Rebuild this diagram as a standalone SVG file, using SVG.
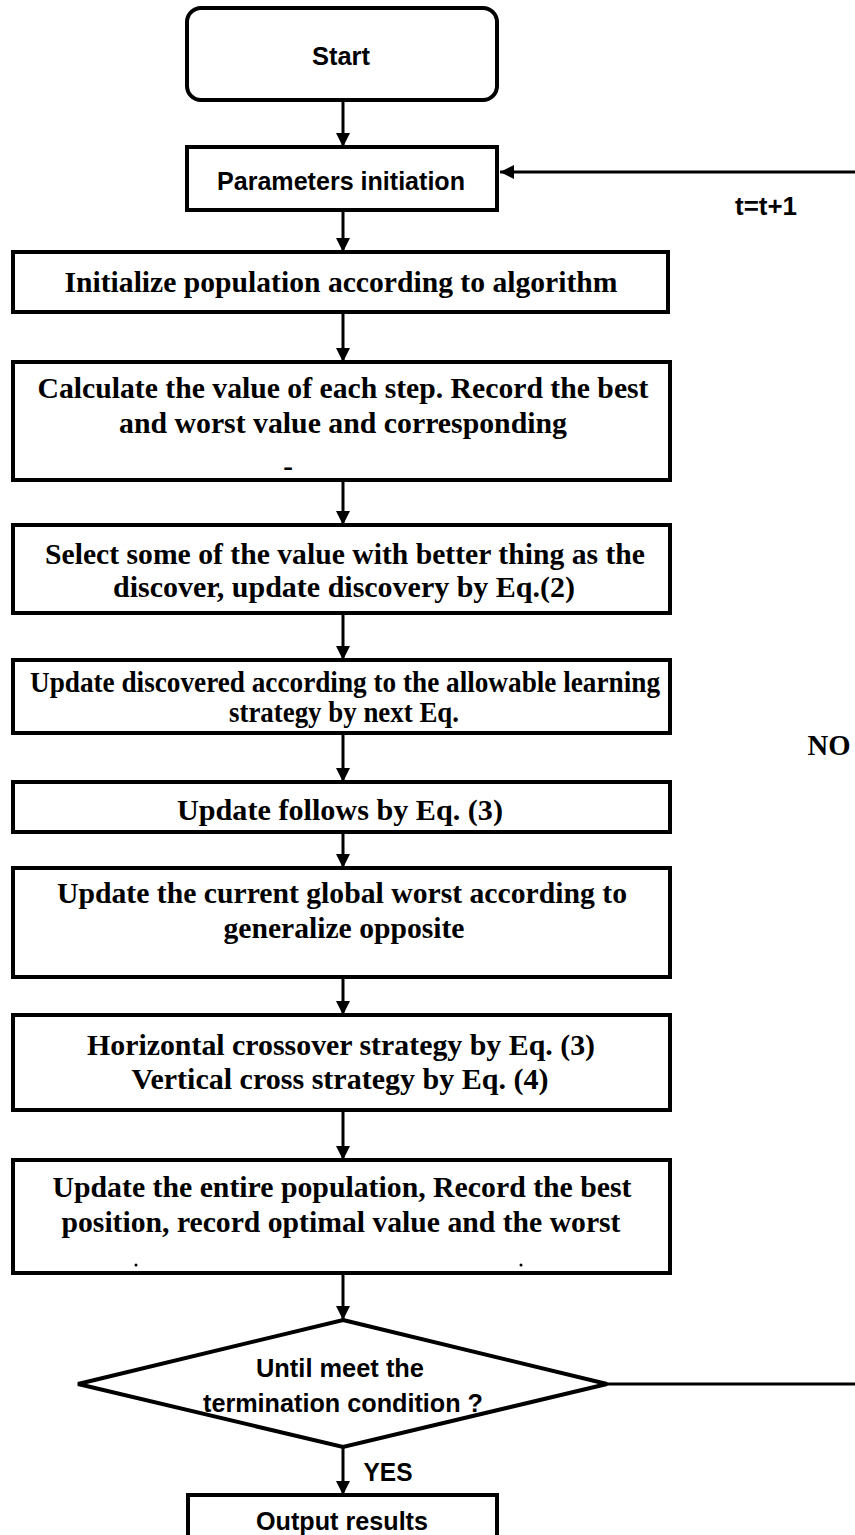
<svg xmlns="http://www.w3.org/2000/svg" width="855" height="1535" viewBox="0 0 855 1535">
<style>
.box{fill:#fff;stroke:#000;stroke-width:4}
.ln{fill:none;stroke:#000;stroke-width:3}
.t{font-family:"Liberation Serif",serif;font-weight:bold;font-size:29px;fill:#000;text-anchor:middle}
.s{font-family:"Liberation Sans",sans-serif;font-weight:bold;font-size:26px;fill:#000;text-anchor:middle}
</style>
<defs>
<marker id="ah" viewBox="0 0 14 14" refX="14" refY="7" markerWidth="14" markerHeight="14" markerUnits="userSpaceOnUse" orient="auto">
<path d="M0,0 L14,7 L0,14 z" fill="#000"/>
</marker>
</defs>
<rect width="855" height="1535" fill="#fff"/>
<g id="connectors">
<line class="ln" x1="343" y1="100" x2="343" y2="147" marker-end="url(#ah)"/>
<line class="ln" x1="343" y1="210" x2="343" y2="252" marker-end="url(#ah)"/>
<line class="ln" x1="343" y1="312" x2="343" y2="362" marker-end="url(#ah)"/>
<line class="ln" x1="343" y1="480" x2="343" y2="525" marker-end="url(#ah)"/>
<line class="ln" x1="343" y1="613" x2="343" y2="660" marker-end="url(#ah)"/>
<line class="ln" x1="343" y1="733" x2="343" y2="782" marker-end="url(#ah)"/>
<line class="ln" x1="343" y1="832" x2="343" y2="868" marker-end="url(#ah)"/>
<line class="ln" x1="343" y1="977" x2="343" y2="1015" marker-end="url(#ah)"/>
<line class="ln" x1="343" y1="1110" x2="343" y2="1160" marker-end="url(#ah)"/>
<line class="ln" x1="343" y1="1273" x2="343" y2="1320" marker-end="url(#ah)"/>
<line class="ln" x1="343" y1="1447" x2="343" y2="1495" marker-end="url(#ah)"/>
<line class="ln" x1="607" y1="1384" x2="855" y2="1384"/>
<line class="ln" x1="855" y1="172" x2="500" y2="172" marker-end="url(#ah)"/>
<text class="s" x="766" y="215" textLength="62" lengthAdjust="spacingAndGlyphs">t=t+1</text>
<text class="t" x="829" y="755" textLength="43" lengthAdjust="spacingAndGlyphs">NO</text>
<text class="s" x="388" y="1481" textLength="49" lengthAdjust="spacingAndGlyphs">YES</text>
</g>
<g id="start">
<rect class="box" x="187" y="8" width="310" height="92" rx="14"/>
<text class="s" x="341" y="65" textLength="58" lengthAdjust="spacingAndGlyphs">Start</text>
</g>
<g id="params">
<rect class="box" x="187" y="147" width="310" height="63"/>
<text class="s" x="341" y="190" textLength="248" lengthAdjust="spacingAndGlyphs">Parameters initiation</text>
</g>
<g id="init">
<rect class="box" x="13" y="252" width="655" height="60"/>
<text class="t" x="341" y="292" textLength="553" lengthAdjust="spacingAndGlyphs">Initialize population according to algorithm</text>
</g>
<g id="calc">
<rect class="box" x="13" y="362" width="657" height="118"/>
<text class="t" x="343" y="398" textLength="611" lengthAdjust="spacingAndGlyphs">Calculate the value of each step. Record the best</text>
<text class="t" x="343" y="433" textLength="448" lengthAdjust="spacingAndGlyphs">and worst value and corresponding</text>
<text class="t" x="288" y="476">-</text>
</g>
<g id="select">
<rect class="box" x="13" y="525" width="657" height="88"/>
<text class="t" x="345" y="564" textLength="600" lengthAdjust="spacingAndGlyphs">Select some of the value with better thing as the</text>
<text class="t" x="344" y="597" textLength="462" lengthAdjust="spacingAndGlyphs">discover, update discovery  by Eq.(2)</text>
</g>
<g id="discovered">
<rect class="box" x="13" y="660" width="657" height="73"/>
<text class="t" x="345" y="692" textLength="630" lengthAdjust="spacingAndGlyphs">Update discovered according to the allowable learning</text>
<text class="t" x="344" y="722" textLength="230" lengthAdjust="spacingAndGlyphs">strategy by next Eq.</text>
</g>
<g id="follows">
<rect class="box" x="13" y="782" width="657" height="50"/>
<text class="t" x="340" y="820" textLength="326" lengthAdjust="spacingAndGlyphs">Update follows by Eq. (3)</text>
</g>
<g id="worst">
<rect class="box" x="13" y="868" width="657" height="109"/>
<text class="t" x="342" y="903" textLength="570" lengthAdjust="spacingAndGlyphs">Update the current global worst according to</text>
<text class="t" x="344" y="938" textLength="241" lengthAdjust="spacingAndGlyphs">generalize  opposite</text>
</g>
<g id="cross">
<rect class="box" x="13" y="1015" width="657" height="95"/>
<text class="t" x="341" y="1055" textLength="508" lengthAdjust="spacingAndGlyphs">Horizontal crossover  strategy by Eq. (3)</text>
<text class="t" x="340" y="1089" textLength="417" lengthAdjust="spacingAndGlyphs">Vertical  cross strategy  by Eq. (4)</text>
</g>
<g id="entire">
<rect class="box" x="13" y="1160" width="657" height="113"/>
<text class="t" x="342" y="1197" textLength="579" lengthAdjust="spacingAndGlyphs">Update the entire population, Record the best</text>
<text class="t" x="341" y="1232" textLength="559" lengthAdjust="spacingAndGlyphs">position, record optimal value and the worst</text>
<circle cx="136" cy="1265" r="1.5" fill="#000"/>
<circle cx="521" cy="1265" r="1.5" fill="#000"/>
</g>
<g id="decision">
<polygon class="box" points="343,1320 607,1384 343,1447 78,1384"/>
<text class="s" x="340" y="1377" textLength="168" lengthAdjust="spacingAndGlyphs">Until meet the</text>
<text class="s" x="343" y="1412" textLength="280" lengthAdjust="spacingAndGlyphs">termination condition ?</text>
</g>
<g id="output">
<rect class="box" x="188" y="1495" width="309" height="60"/>
<text class="s" x="342" y="1530" textLength="172" lengthAdjust="spacingAndGlyphs">Output results</text>
</g>
</svg>
